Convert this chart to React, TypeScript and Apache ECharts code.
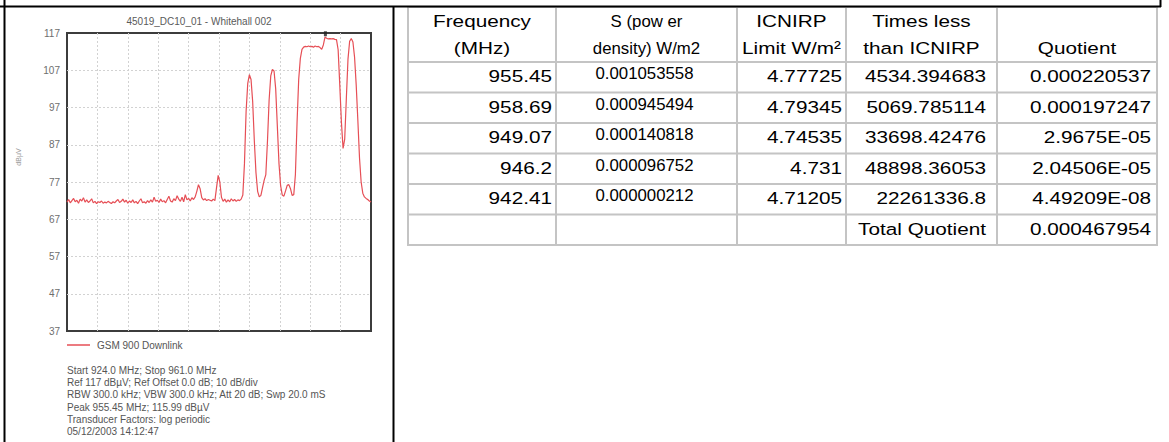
import React, { useEffect, useRef } from "react";
import * as echarts from "echarts";

// ---------- spectrum chart data ----------
const CHART_TITLE = "45019_DC10_01 - Whitehall 002";
const SERIES_NAME = "GSM 900 Downlink";
const Y_AXIS_NAME = "dBμV";
const START_MHZ = 924.0;
const STOP_MHZ = 961.0;
const BOTTOM_LEVEL = 37;
const REF_LEVEL = 117;
const Y_TICK_LABELS = ["37", "47", "57", "67", "77", "87", "97", "107", "117"];
const X_GRID_TICKS = ["", "", "", "", "", "", "", "", "", "", ""];

// trace level (dBµV), one reading every 0.2 MHz from 924.0 to 961.0 MHz
const LEVEL_DBUV = [
  71.6, 72.3, 71.4, 72.0, 72.6, 71.7, 72.1, 71.3, 72.4, 71.9,
  72.8, 71.6, 72.2, 71.5, 71.9, 72.5, 71.4, 71.8, 71.2, 71.7,
  71.5, 71.9, 71.3, 71.6, 71.4, 71.8, 71.5, 71.2, 71.7, 71.4,
  71.9, 72.3, 71.5, 71.8, 72.4, 71.6, 72.1, 71.3, 71.9, 71.5,
  72.2, 71.4, 71.8, 71.2, 71.9, 72.5, 71.4, 71.7, 71.3, 72.0,
  71.5, 72.2, 71.6, 72.9, 71.8, 72.1, 71.5, 72.4, 71.7, 72.0,
  71.4, 72.3, 73.2, 71.9, 71.6, 72.5, 72.0, 73.3, 72.4, 71.8,
  72.9, 71.7, 73.6, 72.2, 72.6, 71.9, 72.8, 72.3, 73.0, 74.5,
  76.3, 75.2, 72.8, 72.2, 72.5, 72.0, 72.3, 72.1, 71.9, 72.4,
  72.0, 75.5, 78.8, 77.0, 72.9, 71.8, 72.4, 71.6, 72.2, 71.7,
  72.5, 71.9, 72.3, 71.8, 72.2, 72.0, 72.4, 73.5, 82.0, 96.0,
  103.5, 105.8, 104.5, 98.5, 88.0, 79.5, 74.5, 73.0, 73.4, 75.5,
  77.5, 79.0, 88.0, 99.0, 105.5, 107.2, 106.8, 102.0, 92.0, 82.0,
  76.0, 73.5, 73.2, 74.6, 76.1, 76.3, 75.2, 73.4, 73.6, 79.0,
  93.0, 104.5, 110.2, 112.6, 113.2, 113.4, 113.3, 113.5, 113.3, 113.4,
  113.2, 113.5, 113.3, 113.4, 113.1, 112.6, 113.8, 115.9, 115.6, 115.4,
  115.5, 115.4, 115.5, 115.3, 115.2, 112.5, 103.0, 93.0, 86.0, 88.5,
  99.5, 110.0, 114.8, 115.5, 114.6, 110.5, 103.0, 93.5, 83.5, 77.0,
  74.0, 73.0, 72.6, 72.3, 71.9, 71.6,
];
const PEAK_MHZ = 955.45;
const PEAK_DBUV = 115.99;

const INFO_LINES = [
  "Start 924.0 MHz; Stop 961.0 MHz",
  "Ref 117 dBµV; Ref Offset 0.0 dB; 10 dB/div",
  "RBW 300.0 kHz; VBW 300.0 kHz; Att 20 dB; Swp 20.0 mS",
  "Peak 955.45 MHz; 115.99 dBµV",
  "Transducer Factors: log periodic",
  "05/12/2003 14:12:47",
];

// ---------- table data ----------
const HEAD_LINE_1 = ["Frequency", "S (pow er", "ICNIRP", "Times less", ""];
const HEAD_LINE_2 = ["(MHz)", "density) W/m2", "Limit W/m²", "than ICNIRP", "Quotient"];
const FREQ_MHZ = ["955.45", "958.69", "949.07", "946.2", "942.41"];
const POWER_DENSITY = ["0.001053558", "0.000945494", "0.000140818", "0.000096752", "0.000000212"];
const ICNIRP_LIMIT = ["4.77725", "4.79345", "4.74535", "4.731", "4.71205"];
const TIMES_LESS = ["4534.394683", "5069.785114", "33698.42476", "48898.36053", "22261336.8"];
const QUOTIENT = ["0.000220537", "0.000197247", "2.9675E-05", "2.04506E-05", "4.49209E-08"];
const TOTAL_LABEL = "Total Quotient";
const TOTAL_QUOTIENT = "0.000467954";

const FONT = "'Liberation Sans', Arial, Helvetica, sans-serif";
const TRACE_COLOR = "#e64f56";

function txt(x: number, y: number, text: string, align: string, size: number, fill: string, scaleX = 1, extra: any = {}) {
  return {
    type: "text",
    x,
    y,
    scaleX,
    silent: true,
    ...extra,
    style: {
      text,
      fontSize: size,
      fontFamily: FONT,
      fill,
      align,
      textAlign: align,
      verticalAlign: "middle",
      textVerticalAlign: "middle",
    },
  };
}

function ln(x1: number, y1: number, x2: number, y2: number, stroke: string, w: number, z = 0) {
  return { type: "line", silent: true, z, shape: { x1, y1, x2, y2 }, style: { stroke, lineWidth: w } };
}

function buildGraphics() {
  const els: any[] = [];
  // outer black frame of the document table
  els.push(ln(0, 6.5, 1161, 6.5, "#000", 2, 10));
  els.push(ln(4.5, 0, 4.5, 442, "#000", 2, 10));
  els.push(ln(393.5, 6.5, 393.5, 442, "#000", 2, 10));
  els.push(ln(1160.5, 0, 1160.5, 7, "#000", 2, 10));

  // chart title, axis name, info lines
  els.push(txt(199, 21, CHART_TITLE, "center", 10, "#5a5a5a"));
  els.push(txt(18, 157, Y_AXIS_NAME, "center", 7, "#9a9a9a", 1, { rotation: Math.PI / 2 }));
  const infoY = [370, 382.4, 394.7, 407, 419.5, 431.8];
  INFO_LINES.forEach((s, i) => els.push(txt(67, infoY[i], s, "left", 10, "#555555")));

  // table grid
  const COL_X = [408, 556, 737, 846, 997, 1157];
  const HEAD_TOP = 7;
  const HEAD_BOTTOM = 62;
  const ROW_H = 30.5;
  const nRows = FREQ_MHZ.length + 1;
  const bottom = HEAD_BOTTOM + nRows * ROW_H;
  const gridColor = "#c4c4c4";
  COL_X.forEach((x) => els.push(ln(x, HEAD_TOP, x, bottom, gridColor, 2)));
  els.push(ln(COL_X[0], HEAD_TOP, COL_X[5], HEAD_TOP, gridColor, 2));
  for (let r = 0; r <= nRows; r++) {
    const y = HEAD_BOTTOM + r * ROW_H;
    els.push(ln(COL_X[0] - 1, y, COL_X[5] + 1, y, gridColor, 2));
  }

  const FS = 17;
  const SX = 1.22;
  const FS_S = 16;
  const SX_S = 1.05;
  const centers = COL_X.slice(0, 5).map((x, i) => (x + COL_X[i + 1]) / 2);

  // header
  HEAD_LINE_1.forEach((s, i) => {
    if (s) els.push(txt(centers[i], 21, s, "center", i === 1 ? FS_S : FS, "#000", i === 1 ? SX_S : SX));
  });
  HEAD_LINE_2.forEach((s, i) => {
    els.push(txt(centers[i], 48, s, "center", i === 1 ? FS_S : FS, "#000", i === 1 ? SX_S : SX));
  });

  const rightX = [COL_X[1] - 4, 0, COL_X[3] - 4, COL_X[4] - 11, COL_X[5] - 6];
  FREQ_MHZ.forEach((_, r) => {
    const cy = HEAD_BOTTOM + r * ROW_H + 14.5;
    els.push(txt(rightX[0], cy, FREQ_MHZ[r], "right", FS, "#000", SX));
    els.push(txt(centers[1] - 2, cy - 3, POWER_DENSITY[r], "center", FS_S, "#000", SX_S));
    els.push(txt(rightX[2], cy, ICNIRP_LIMIT[r], "right", FS, "#000", SX));
    els.push(txt(rightX[3], cy, TIMES_LESS[r], "right", FS, "#000", SX));
    els.push(txt(rightX[4], cy, QUOTIENT[r], "right", FS, "#000", SX));
  });
  const ty = HEAD_BOTTOM + FREQ_MHZ.length * ROW_H + 14.5;
  els.push(txt(rightX[3], ty, TOTAL_LABEL, "right", FS, "#000", SX));
  els.push(txt(rightX[4], ty, TOTAL_QUOTIENT, "right", FS, "#000", SX));
  return els;
}

export default function App() {
  const ref = useRef<HTMLDivElement>(null);
  useEffect(() => {
    if (!ref.current) return;
    const chart = echarts.init(ref.current, undefined, { renderer: "svg" });
    const step = (STOP_MHZ - START_MHZ) / (LEVEL_DBUV.length - 1);
    const trace = LEVEL_DBUV.map((v, i) => [START_MHZ + i * step, v]);
    const innerOnly = (n: number) => (idx: number) => idx > 0 && idx < n - 1;
    const dotted = (n: number) => ({
      show: true,
      interval: innerOnly(n),
      lineStyle: { color: "#d2d2d2", type: [2, 2], width: 1 },
    });
    const option: any = {
      animation: false,
      backgroundColor: "#ffffff",
      textStyle: { fontFamily: FONT },
      grid: {
        left: 67,
        top: 33,
        width: 304,
        height: 298,
        show: true,
        borderColor: "#3c3c3c",
        borderWidth: 2,
        backgroundColor: "transparent",
        containLabel: false,
      },
      xAxis: [
        { type: "value", min: START_MHZ, max: STOP_MHZ, show: false },
        {
          type: "category",
          data: X_GRID_TICKS,
          boundaryGap: false,
          axisLine: { show: false },
          axisTick: { show: false },
          axisLabel: { show: false },
          splitLine: dotted(X_GRID_TICKS.length),
        },
      ],
      yAxis: [
        { type: "value", min: BOTTOM_LEVEL, max: REF_LEVEL, show: false },
        {
          type: "category",
          data: Y_TICK_LABELS,
          boundaryGap: false,
          position: "left",
          axisLine: { show: false },
          axisTick: { show: false },
          axisLabel: { show: true, interval: 0, margin: 7, color: "#6e6e6e", fontSize: 10, fontFamily: FONT },
          splitLine: dotted(Y_TICK_LABELS.length),
        },
      ],
      legend: {
        data: [SERIES_NAME],
        left: 67,
        top: 339,
        padding: 0,
        icon: "rect",
        itemWidth: 23,
        itemHeight: 1.5,
        selectedMode: false,
        textStyle: { fontSize: 10, color: "#555555", fontFamily: FONT, lineHeight: 12, padding: [0, 0, 0, 2] },
      },
      series: [
        {
          type: "line",
          name: SERIES_NAME,
          xAxisIndex: 0,
          yAxisIndex: 0,
          data: trace,
          symbol: "none",
          showSymbol: false,
          lineStyle: { color: TRACE_COLOR, width: 1.2 },
          itemStyle: { color: TRACE_COLOR },
          silent: true,
          z: 3,
        },
        {
          type: "scatter",
          name: "peak",
          xAxisIndex: 0,
          yAxisIndex: 0,
          data: [[PEAK_MHZ, PEAK_DBUV]],
          symbol: "rect",
          symbolSize: [3, 5],
          symbolOffset: [0, -3],
          itemStyle: { color: "#222222" },
          silent: true,
          z: 4,
        },
      ],
      graphic: { elements: buildGraphics() },
    };
    chart.setOption(option);
    return () => chart.dispose();
  }, []);
  return (
    <div
      ref={ref}
      style={{ position: "fixed", left: 0, top: 0, width: 1169, height: 442, background: "#fff" }}
    />
  );
}
